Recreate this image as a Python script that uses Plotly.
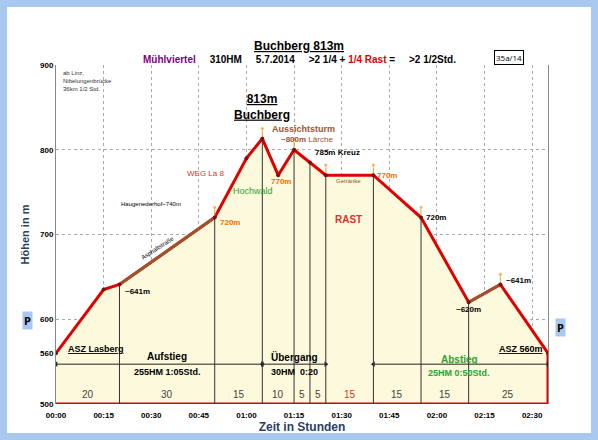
import plotly.graph_objects as go

# Zeit in Minuten ab Start, Höhe in m
minutes = [0, 15, 20, 50, 60, 65, 70, 75, 80, 85, 100, 115, 130, 140, 155]
elev = [560, 635, 641, 720, 790, 813, 770, 800, 785, 770, 770, 720, 620, 641, 560]

# Abschnittsgrenzen (senkrechte Linien) und Dauern
seg_x = [20, 50, 65, 75, 80, 85, 100, 115, 130]
seg_bounds = [0, 20, 50, 65, 75, 80, 85, 100, 115, 130, 155]
seg_dur = ["20", "30", "15", "10", "5", "5", "15", "15", "15", "25"]
seg_col = ["#444", "#444", "#444", "#444", "#444", "#444", "#e03030", "#444", "#444", "#444"]

tick_vals = [0, 15, 30, 45, 60, 75, 90, 105, 120, 135, 150]
tick_text = ["00:00", "00:15", "00:30", "00:45", "01:00", "01:15", "01:30", "01:45", "02:00", "02:15", "02:30"]
y_ticks = [500, 560, 600, 700, 800, 900]

orange_x = [50, 65, 75, 85, 100, 115, 140]

L, R, T, B = 56, 50, 65, 36
PW, PH = 598 - L - R, 440 - T - B

def px(x):
    return (x - L) / PW

def py(y):
    return (440 - B - y) / PH

def el_at(m):
    return elev[minutes.index(m)]

fig = go.Figure()
fig.add_trace(go.Scatter(x=minutes, y=elev, fill="tozeroy", fillcolor="#fcf9dc",
                         line=dict(color="#e00000", width=3), mode="lines", hoverinfo="skip"))
fig.add_trace(go.Scatter(x=[20, 50], y=[641, 720], mode="lines", line=dict(color="#a0522d", width=3)))
fig.add_trace(go.Scatter(x=[130, 140], y=[620, 641], mode="lines", line=dict(color="#a0522d", width=3)))
fig.add_trace(go.Scatter(x=[0, 155, 155], y=[500, 500, 560], mode="lines", line=dict(color="#e00000", width=3)))
for x in orange_x:
    fig.add_trace(go.Scatter(x=[x, x], y=[el_at(x), el_at(x) + 12], mode="lines+markers",
                             line=dict(color="#f0a020", width=1),
                             marker=dict(size=[0, 4], color="#f0a020")))
fig.add_trace(go.Scatter(x=minutes, y=elev, mode="markers", marker=dict(size=4, color="#7a1010")))

shapes = [dict(type="rect", xref="paper", yref="paper", x0=px(7), x1=px(591), y0=py(433), y1=py(7),
               fillcolor="white", line=dict(width=0), layer="below")]
for x in seg_x:
    shapes.append(dict(type="line", x0=x, x1=x, y0=500, y1=el_at(x), line=dict(color="#333", width=1)))

for a, b, y in [(0, 65, 547), (65, 85, 547), (100, 155, 547)]:
    fig.add_trace(go.Scatter(x=[a, b], y=[y, y], mode="lines+markers", line=dict(color="#222", width=1),
                             marker=dict(symbol=["triangle-left", "triangle-right"], size=5, color="#222")))

ann = []
def t(x, y, s, size=9, color="black", bold=False, xr="x", yr="y", **kw):
    if bold:
        s = "<b>" + s + "</b>"
    ann.append(dict(x=x, y=y, xref=xr, yref=yr, text=s, showarrow=False,
                    font=dict(size=size, color=color, family="Arial"), **kw))

for i, d in enumerate(seg_dur):
    t((seg_bounds[i] + seg_bounds[i + 1]) / 2, 511, d, size=10, color=seg_col[i])

t(px(299), py(37), "<u>Buchberg 813m</u>", 12, bold=True, xr="paper", yr="paper")
t(px(299), py(52), "<span style='color:#800080'>Mühlviertel</span>     310HM     5.7.2014     &gt;2 1/4 + "
  "<span style='color:#e00000'>1/4 Rast</span> =     &gt;2 1/2Std.", 10, bold=True, xr="paper", yr="paper")
ann.append(dict(x=px(524), y=py(50), xref="paper", yref="paper", text="35a/14", showarrow=False,
                font=dict(size=8, color="black"), bordercolor="black", borderwidth=1, bgcolor="white"))
t(1.5, 896, "ab Linz,<br>Nibelungenbrücke<br>36km 1/2 Std.", 6, color="#333", xanchor="left", yanchor="top", align="left")
t(65, 850, "<u>813m</u><br><u>Buchberg</u>", 12, bold=True)
t(78, 824, "Aussichtsturm", 9, color="#a0522d", bold=True)
t(79, 812, "<b>~800m</b> Lärche", 8, color="#a0522d")
t(81, 797, "785m Kreuz", 8, bold=True, xanchor="left")
t(71, 763, "770m", 8, color="#f07000", bold=True)
t(100.5, 770, "770m", 8, color="#f07000", bold=True, xanchor="left")
t(47, 772, "WEG La 8", 8, color="#e03030")
t(62, 751, "Hochwald", 9, color="#30a030")
t(30, 736, "Haugenederhof~740m", 6)
t(51, 714, "720m", 8, color="#f07000", bold=True, xanchor="left")
t(32, 684, "Asphaltstraße", 6, textangle=-33)
t(21, 633, "~641m", 8, bold=True, xanchor="left")
t(116, 720, "720m", 8, bold=True, xanchor="left")
t(92, 718, "RAST", 10, color="#e03030", bold=True)
t(92, 763, "Getränke", 6, color="#a0522d")
t(130, 612, "~620m", 8, bold=True)
t(141, 646, "~641m", 8, bold=True, xanchor="left")
t(3, 565, "<u>ASZ Lasberg</u>", 9, bold=True, xanchor="left")
t(154, 565, "<u>ASZ 560m</u>", 9, bold=True, xanchor="right")
t(35, 556, "Aufstieg", 10, bold=True)
t(35, 538, "255HM 1:05Std.", 9, bold=True)
t(75, 556, "Übergang", 10, bold=True)
t(75, 538, "30HM  0:20", 9, bold=True)
t(127, 553, "Abstieg", 10, color="#30a030", bold=True)
t(127, 536, "25HM 0:50Std.", 9, color="#30a030", bold=True)
t(-3, 499, "ab 13:40Uhr", 5, color="#444", xanchor="left", yanchor="top")
t(65, 499, "14:45", 5, color="#444", yanchor="top")
t(85, 499, "15:06", 5, color="#444", yanchor="top")
t(157, 499, "an 16:16Uhr", 5, color="#444", xanchor="right", yanchor="top")
for qx, qy in [(22, 330), (566, 337)]:
    ann.append(dict(x=px(qx), y=py(qy), xref="paper", yref="paper", text="<b>P</b>", showarrow=False,
                    font=dict(size=11, color="#000"), bgcolor="#a9c8f0"))

fig.update_layout(
    width=598, height=440, showlegend=False,
    paper_bgcolor="#a9c8f0", plot_bgcolor="white",
    margin=dict(l=L, r=R, t=T, b=B, autoexpand=False),
    xaxis=dict(range=[0, 155], tickvals=tick_vals, ticktext=["<b>%s</b>" % s for s in tick_text], showgrid=True,
               gridcolor="#aaa", griddash="dot", zeroline=False, tickfont=dict(size=8, family="Arial", color="black"),
               title=dict(text="<b>Zeit in Stunden</b>", font=dict(size=12, family="Arial"), standoff=0),
               showline=False, ticklen=0, ticklabelstandoff=5),
    yaxis=dict(range=[500, 900], tickvals=y_ticks, ticktext=["<b>%d</b>" % v for v in y_ticks], showgrid=True,
               gridcolor="#aaa", griddash="dot", zeroline=False, tickfont=dict(size=8, family="Arial", color="black"),
               title=dict(text="<b>Höhen in m</b>", font=dict(size=11, family="Arial"), standoff=8),
               showline=True, linecolor="#888", mirror=True),
    shapes=shapes,
    annotations=ann,
)
fig.write_html("out.html", config={"displayModeBar": False},
               post_script="document.body.style.margin='0';")
